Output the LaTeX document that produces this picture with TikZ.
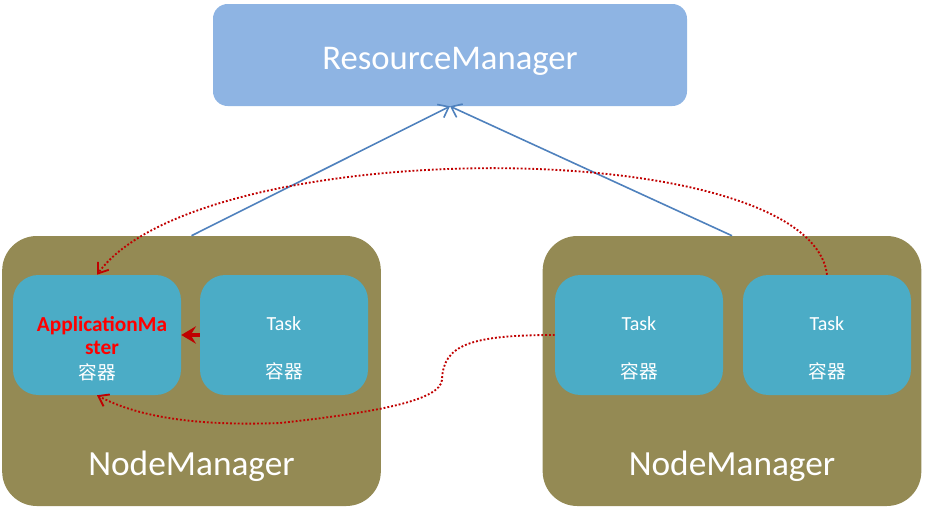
\documentclass[tikz,border=0pt]{standalone}
\usepackage{fontspec}
\setmainfont{Carlito}
\newfontfamily\cjk{Noto Sans CJK SC}
\usetikzlibrary{arrows.meta}

\definecolor{rmblue}{HTML}{8EB4E3}
\definecolor{nmolive}{HTML}{948A54}
\definecolor{boxteal}{HTML}{4BACC6}
\definecolor{linkblue}{HTML}{4F81BD}
\definecolor{darkred}{HTML}{C00000}

\tikzset{
  rmbox/.style={fill=rmblue, rounded corners=11pt, minimum width=355.5pt, minimum height=76.5pt, inner sep=0pt, text=white, text height=26pt, font=\fontsize{26}{30}\selectfont},
  nmbox/.style={fill=nmolive, rounded corners=26pt, minimum width=284pt, minimum height=202.5pt, inner sep=0pt},
  ctbox/.style={fill=boxteal, rounded corners=19pt, minimum width=126pt, minimum height=90pt, inner sep=0pt},
  nmtext/.style={text=white, font=\fontsize{26.5}{30}\selectfont},
  tasktext/.style={text=white, font=\fontsize{15}{18}\selectfont},
  cntext/.style={text=white, font=\cjk\fontsize{14}{17}\selectfont},
  amtext/.style={text=red, font=\bfseries\fontsize{16}{17.25}\selectfont, align=center},
  report/.style={linkblue, line width=1.2pt, -{Straight Barb[length=7pt,width=11pt]}},
  msg/.style={darkred, line width=1.4pt, dash pattern=on 1.4pt off 1.5pt, -{Straight Barb[length=7pt,width=10pt]}},
  ask/.style={darkred, line width=2.6pt, -{Stealth[length=11pt,width=13pt,inset=4pt]}},
}

\begin{document}
\begin{tikzpicture}[x=0.75pt, y=-0.75pt]
        \useasboundingbox (0,0) rectangle (925,514);

        % boxes
        \node[rmbox] (rm) at (450,55) {ResourceManager};
        \node[nmbox] (nml) at (191.5,371) {};
        \node[nmbox] (nmr) at (732,371) {};
        \node[ctbox] (am) at (97,335) {};
        \node[ctbox] (taskl) at (284,335) {};
        \node[ctbox] (taskra) at (639,335) {};
        \node[ctbox] (taskrb) at (827,335) {};

        % labels
        \node[nmtext] (nmltext) at (191.5,466) {NodeManager};
        \node[nmtext] (nmrtext) at (732,466) {NodeManager};
        \node[amtext] (amtext) at (102,336) {ApplicationMa\\ster};
        \node[cntext] (amcn) at (97,372) {容器};
        \node[tasktext] (taskltext) at (284,324) {Task};
        \node[cntext] (tasklcn) at (284,371) {容器};
        \node[tasktext] (taskratext) at (639,324) {Task};
        \node[cntext] (taskracn) at (639,371) {容器};
        \node[tasktext] (taskrbtext) at (827,324) {Task};
        \node[cntext] (taskrbcn) at (827,371) {容器};

        %% arcs
        \draw[report] (nml.north) -- (rm.south);
        \draw[report] (nmr.north) -- (rm.south);
        \draw[ask] (taskl.west) -- (am.east);
        \draw[msg] (taskrb.north) .. controls (810,133) and (200,133) .. (am.north);
        \draw[msg] (taskra.west) .. controls (470,335) and (443,345) .. (442,380)
                .. controls (440,400) and (380,412) .. (280,423)
                .. controls (200,426) and (140,418) .. (am.south);
\end{tikzpicture}
\end{document}
